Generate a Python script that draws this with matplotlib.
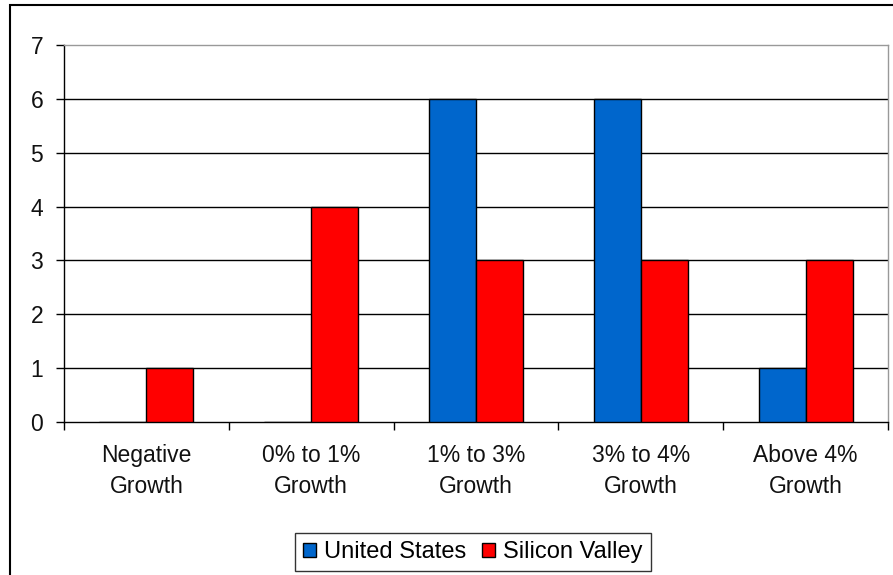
import matplotlib
matplotlib.use("Agg")
import matplotlib.pyplot as plt
from matplotlib.patches import Rectangle, Patch
import numpy as np

categories = ["Negative\nGrowth", "0% to 1%\nGrowth", "1% to 3%\nGrowth", "3% to 4%\nGrowth", "Above 4%\nGrowth"]
us_values = [0, 0, 6, 6, 1]
sv_values = [1, 4, 3, 3, 3]
y_ticks = [0, 1, 2, 3, 4, 5, 6, 7]

plt.rcParams['font.family'] = ['Liberation Sans', 'DejaVu Sans']
FS = 16.5

W, H = 893, 575
fig = plt.figure(figsize=(W/100, H/100), dpi=100)
fig.patches.append(Rectangle((10/W, -0.1), 1.2, 1.1 - 5/H, transform=fig.transFigure,
                             fill=False, edgecolor='black', linewidth=1.5))

ax = fig.add_axes([64/W, 1-422/H, (888-64)/W, (422-45)/H])
x = np.arange(len(categories))
bw = 0.285
ax.bar(x - bw/2, us_values, bw, color='#0066CC', edgecolor='black', linewidth=1, label='United States', zorder=3)
ax.bar(x + bw/2, sv_values, bw, color='#FF0000', edgecolor='black', linewidth=1, label='Silicon Valley', zorder=3)

ax.set_xlim(-0.5, len(categories) - 0.5)
ax.set_ylim(0, 7)
ax.set_yticks(y_ticks)
ax.set_yticklabels([str(t) for t in y_ticks], fontsize=FS, color='#111111')
for t in y_ticks[1:-1]:
    ax.axhline(t, color='black', linewidth=1, zorder=1)

ax.set_xticks(np.arange(len(categories) + 1) - 0.5)
ax.set_xticklabels([])
ax.set_xticks(x, minor=True)
ax.set_xticklabels(categories, minor=True, fontsize=FS, linespacing=1.45, color='#111111')
ax.tick_params(axis='x', which='minor', length=0, pad=16)
ax.tick_params(axis='x', which='major', length=6, width=1, direction='out')
ax.tick_params(axis='y', length=6, width=1, direction='out', pad=9)

ax.spines['left'].set_color('black')
ax.spines['bottom'].set_color('black')
ax.spines['top'].set_color('#999999')
ax.spines['right'].set_color('#999999')
for s in ax.spines.values():
    s.set_linewidth(1)

handles = [Patch(facecolor='#0066CC', edgecolor='black', label='United States'),
           Patch(facecolor='#FF0000', edgecolor='black', label='Silicon Valley')]
leg = fig.legend(handles=handles, loc='center', bbox_to_anchor=(473/W, 1-552/H), ncol=2,
                 fontsize=17, frameon=True, fancybox=False, edgecolor='black',
                 handlelength=0.55, handleheight=0.55, handletextpad=0.35, columnspacing=0.65,
                 borderpad=0.35, borderaxespad=0)
leg.get_frame().set_linewidth(1)

fig.savefig("out.png", dpi=100)
